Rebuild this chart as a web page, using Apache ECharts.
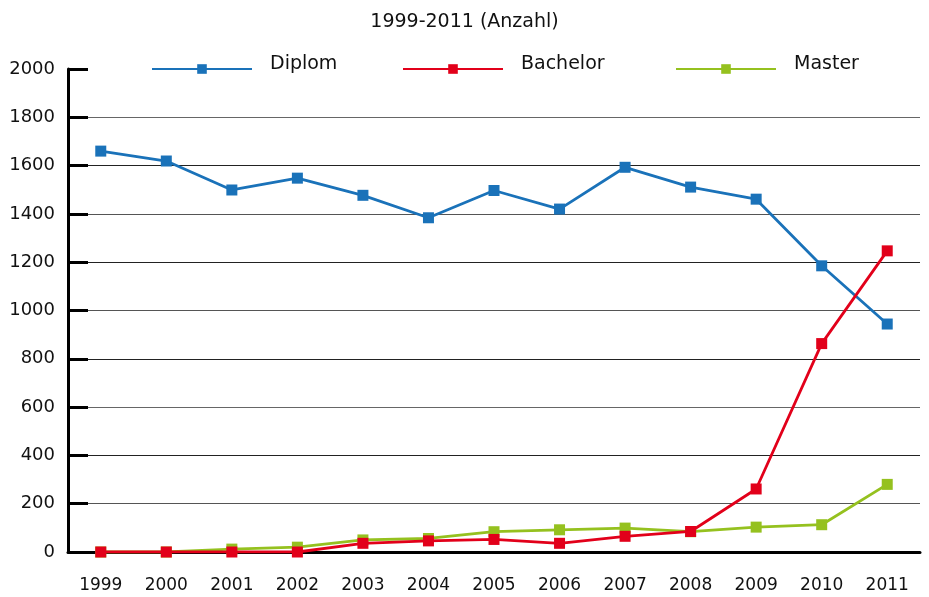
<!DOCTYPE html>
<html><head><meta charset="utf-8">
<script src="https://cdn.jsdelivr.net/npm/echarts@6/dist/echarts.min.js"></script>
<style>html,body{margin:0;padding:0;background:#fff}#c{width:929px;height:597px}</style>
</head><body><div id="c"></div>
<script>
const years = ['1999','2000','2001','2002','2003','2004','2005','2006','2007','2008','2009','2010','2011'];
const diplom = [1660, 1619, 1499, 1548, 1477, 1384, 1497, 1420, 1593, 1511, 1461, 1185, 944];
const bachelor = [0, 0, 0, 0, 36, 46, 52, 36, 65, 85, 261, 863, 1247];
const master = [0, 0, 12, 20, 50, 56, 84, 92, 99, 84, 103, 113, 280];
const seriesNames = ['Diplom', 'Bachelor', 'Master'];
const titleText = '1999-2011 (Anzahl)';

const FONT = 'DejaVu Sans';
const colors = ['#1a72b9', '#e2001a', '#95c11f'];
const chart = echarts.init(document.getElementById('c'), null, {renderer: 'canvas'});
const gridColors = ['#222', '#555', '#222', '#666', '#222', '#555', '#222', '#555', '#222', '#666', 'rgba(0,0,0,0)'];
function legendAt(name, left) {
  return {
    data: [name], left: left, top: 50, itemWidth: 100, itemHeight: 12,
    selectedMode: false,
    formatter: '{a|{name}}',
    textStyle: {fontFamily: FONT, fontSize: 19, color: '#111',
      rich: {a: {fontFamily: FONT, fontSize: 19, color: '#111', padding: [0, 0, 9, 13]}}}
  };
}
chart.setOption({
  animation: false,
  title: {text: titleText, left: 'center', top: 8,
    textStyle: {fontFamily: FONT, fontSize: 19, fontWeight: 'normal', color: '#111'}},
  legend: [legendAt('Diplom', 146), legendAt('Bachelor', 397), legendAt('Master', 670)],
  grid: {left: 68, right: 9, top: 69, bottom: 45},
  xAxis: {
    type: 'category', data: years, boundaryGap: true,
    axisLine: {lineStyle: {color: '#000', width: 3}},
    axisTick: {inside: true, length: 11, lineStyle: {color: '#000', width: 2.5}},
    axisLabel: {fontFamily: FONT, fontSize: 17, color: '#111', margin: 25}
  },
  yAxis: {
    type: 'value', min: 0, max: 2000, interval: 200,
    axisLine: {show: true, lineStyle: {color: '#000', width: 3}},
    axisTick: {show: true, inside: true, length: 20, lineStyle: {color: '#000', width: 3}},
    axisLabel: {fontFamily: FONT, fontSize: 18, color: '#111', margin: 13,
      formatter: v => String(v)},
    splitLine: {show: true, lineStyle: {color: gridColors, width: 1}}
  },
  series: [
    {name: seriesNames[0], type: 'line', data: diplom, symbol: 'rect', symbolSize: 11,
     itemStyle: {color: colors[0]}, lineStyle: {color: colors[0], width: 2.8}, z: 3},
    {name: seriesNames[1], type: 'line', data: bachelor, symbol: 'rect', symbolSize: 11,
     itemStyle: {color: colors[1]}, lineStyle: {color: colors[1], width: 2.8}, z: 4},
    {name: seriesNames[2], type: 'line', data: master, symbol: 'rect', symbolSize: 11,
     itemStyle: {color: colors[2]}, lineStyle: {color: colors[2], width: 2.8}, z: 2}
  ]
});
</script></body></html>
